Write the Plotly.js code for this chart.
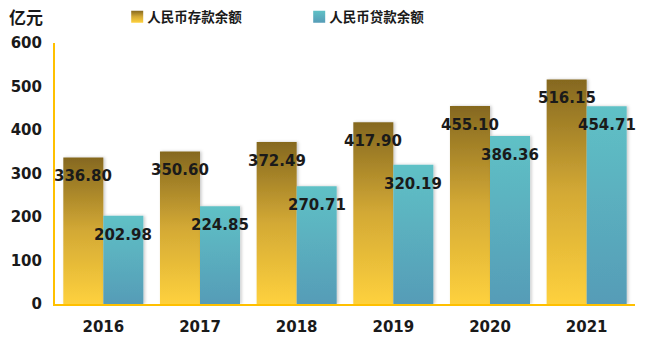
<!DOCTYPE html>
<html>
<head>
<meta charset="utf-8">
<script src="https://cdn.plot.ly/plotly-3.0.1.min.js"></script>
<style>
html,body{margin:0;padding:0;background:#fff;}
#chart{width:652px;height:355px;}
</style>
</head>
<body>
<svg width="0" height="0" style="position:absolute">
  <defs>
    <linearGradient id="gradDep" x1="0" y1="0" x2="0" y2="1">
      <stop offset="0%" stop-color="#85681f"/>
      <stop offset="50%" stop-color="#d3a935"/>
      <stop offset="100%" stop-color="#fed13d"/>
    </linearGradient>
    <linearGradient id="gradLoan" x1="0" y1="0" x2="0" y2="1">
      <stop offset="0%" stop-color="#5fc1c6"/>
      <stop offset="100%" stop-color="#569cb7"/>
    </linearGradient>
    <filter id="barShadow" x="-20%" y="-5%" width="140%" height="110%">
      <feDropShadow dx="1.5" dy="0" stdDeviation="1.5" flood-color="#000" flood-opacity="0.22"/>
    </filter>
  </defs>
</svg>
<div id="chart"></div>
<script>
const years = ['2016', '2017', '2018', '2019', '2020', '2021'];
const depositName = '人民币存款余额';
const loanName = '人民币贷款余额';
const depositValues = [336.80, 350.60, 372.49, 417.90, 455.10, 516.15];
const loanValues = [202.98, 224.85, 270.71, 320.19, 386.36, 454.71];
const yTicks = [0, 100, 200, 300, 400, 500, 600];
const unitLabel = '亿元';

const numFont = {family: 'DejaVu Sans', size: 15, color: '#1a1a1a', weight: 700};
const cjkFont = {family: 'Noto Sans CJK SC', size: 15, color: '#1a1a1a', weight: 700};

const traces = [
  {type: 'bar', name: depositName, x: years, y: depositValues,
   marker: {color: '#d3a935'}, hoverinfo: 'none'},
  {type: 'bar', name: loanName, x: years, y: loanValues,
   marker: {color: '#5cb3c1'}, hoverinfo: 'none'}
];

const annotations = [];
years.forEach((yr, i) => {
  annotations.push({x: i, y: depositValues[i], xref: 'x', yref: 'y', text: depositValues[i].toFixed(2),
    showarrow: false, xshift: -20, yshift: -19, font: numFont, xanchor: 'center', yanchor: 'middle'});
  annotations.push({x: i, y: loanValues[i], xref: 'x', yref: 'y', text: loanValues[i].toFixed(2),
    showarrow: false, xshift: 20, yshift: -19, font: numFont, xanchor: 'center', yanchor: 'middle'});
});
annotations.push({xref: 'paper', yref: 'paper', x: -0.083, y: 1.1, xanchor: 'left', yanchor: 'middle',
  text: unitLabel, showarrow: false, font: Object.assign({}, cjkFont, {size: 17})});

const layout = {
  width: 652, height: 355,
  margin: {l: 55, r: 17, t: 43, b: 51, autoexpand: false},
  paper_bgcolor: '#fff', plot_bgcolor: '#fff',
  barmode: 'group', bargap: 0.172, bargroupgap: 0,
  showlegend: true,
  legend: {orientation: 'h', x: 0.09, xanchor: 'left', y: 1.1, yanchor: 'middle',
    font: Object.assign({}, cjkFont, {size: 13.5}), entrywidth: 137,
    bgcolor: 'rgba(0,0,0,0)'},
  xaxis: {type: 'category', range: [-0.5, 5.5], showgrid: false, zeroline: false, showline: true,
    linecolor: '#ffc000', linewidth: 2, ticks: '', tickfont: numFont, ticklabelstandoff: 8},
  yaxis: {range: [0, 600], tickvals: yTicks, showgrid: false, zeroline: false, showline: true,
    linecolor: '#ffc000', linewidth: 2, ticks: '', tickfont: numFont, ticklabelstandoff: 8},
  annotations: annotations
};

Plotly.newPlot('chart', traces, layout, {displayModeBar: false, staticPlot: true}).then(() => {
  const gd = document.getElementById('chart');
  const grads = ['url(#gradDep)', 'url(#gradLoan)'];
  gd.querySelectorAll('.barlayer .trace').forEach((tr, i) => {
    tr.querySelectorAll('path').forEach(p => {
      p.style.fill = grads[i];
      p.style.filter = 'url(#barShadow)';
    });
  });
  gd.querySelectorAll('.legend .traces').forEach((tr, i) => {
    tr.querySelectorAll('.legendpoints path').forEach(p => {
      p.style.fill = grads[i];
      p.style.stroke = 'none';
    });
    const lp = tr.querySelector('.legendpoints');
    if (lp) lp.setAttribute('transform', 'translate(10,0)');
  });
});
</script>
</body>
</html>
